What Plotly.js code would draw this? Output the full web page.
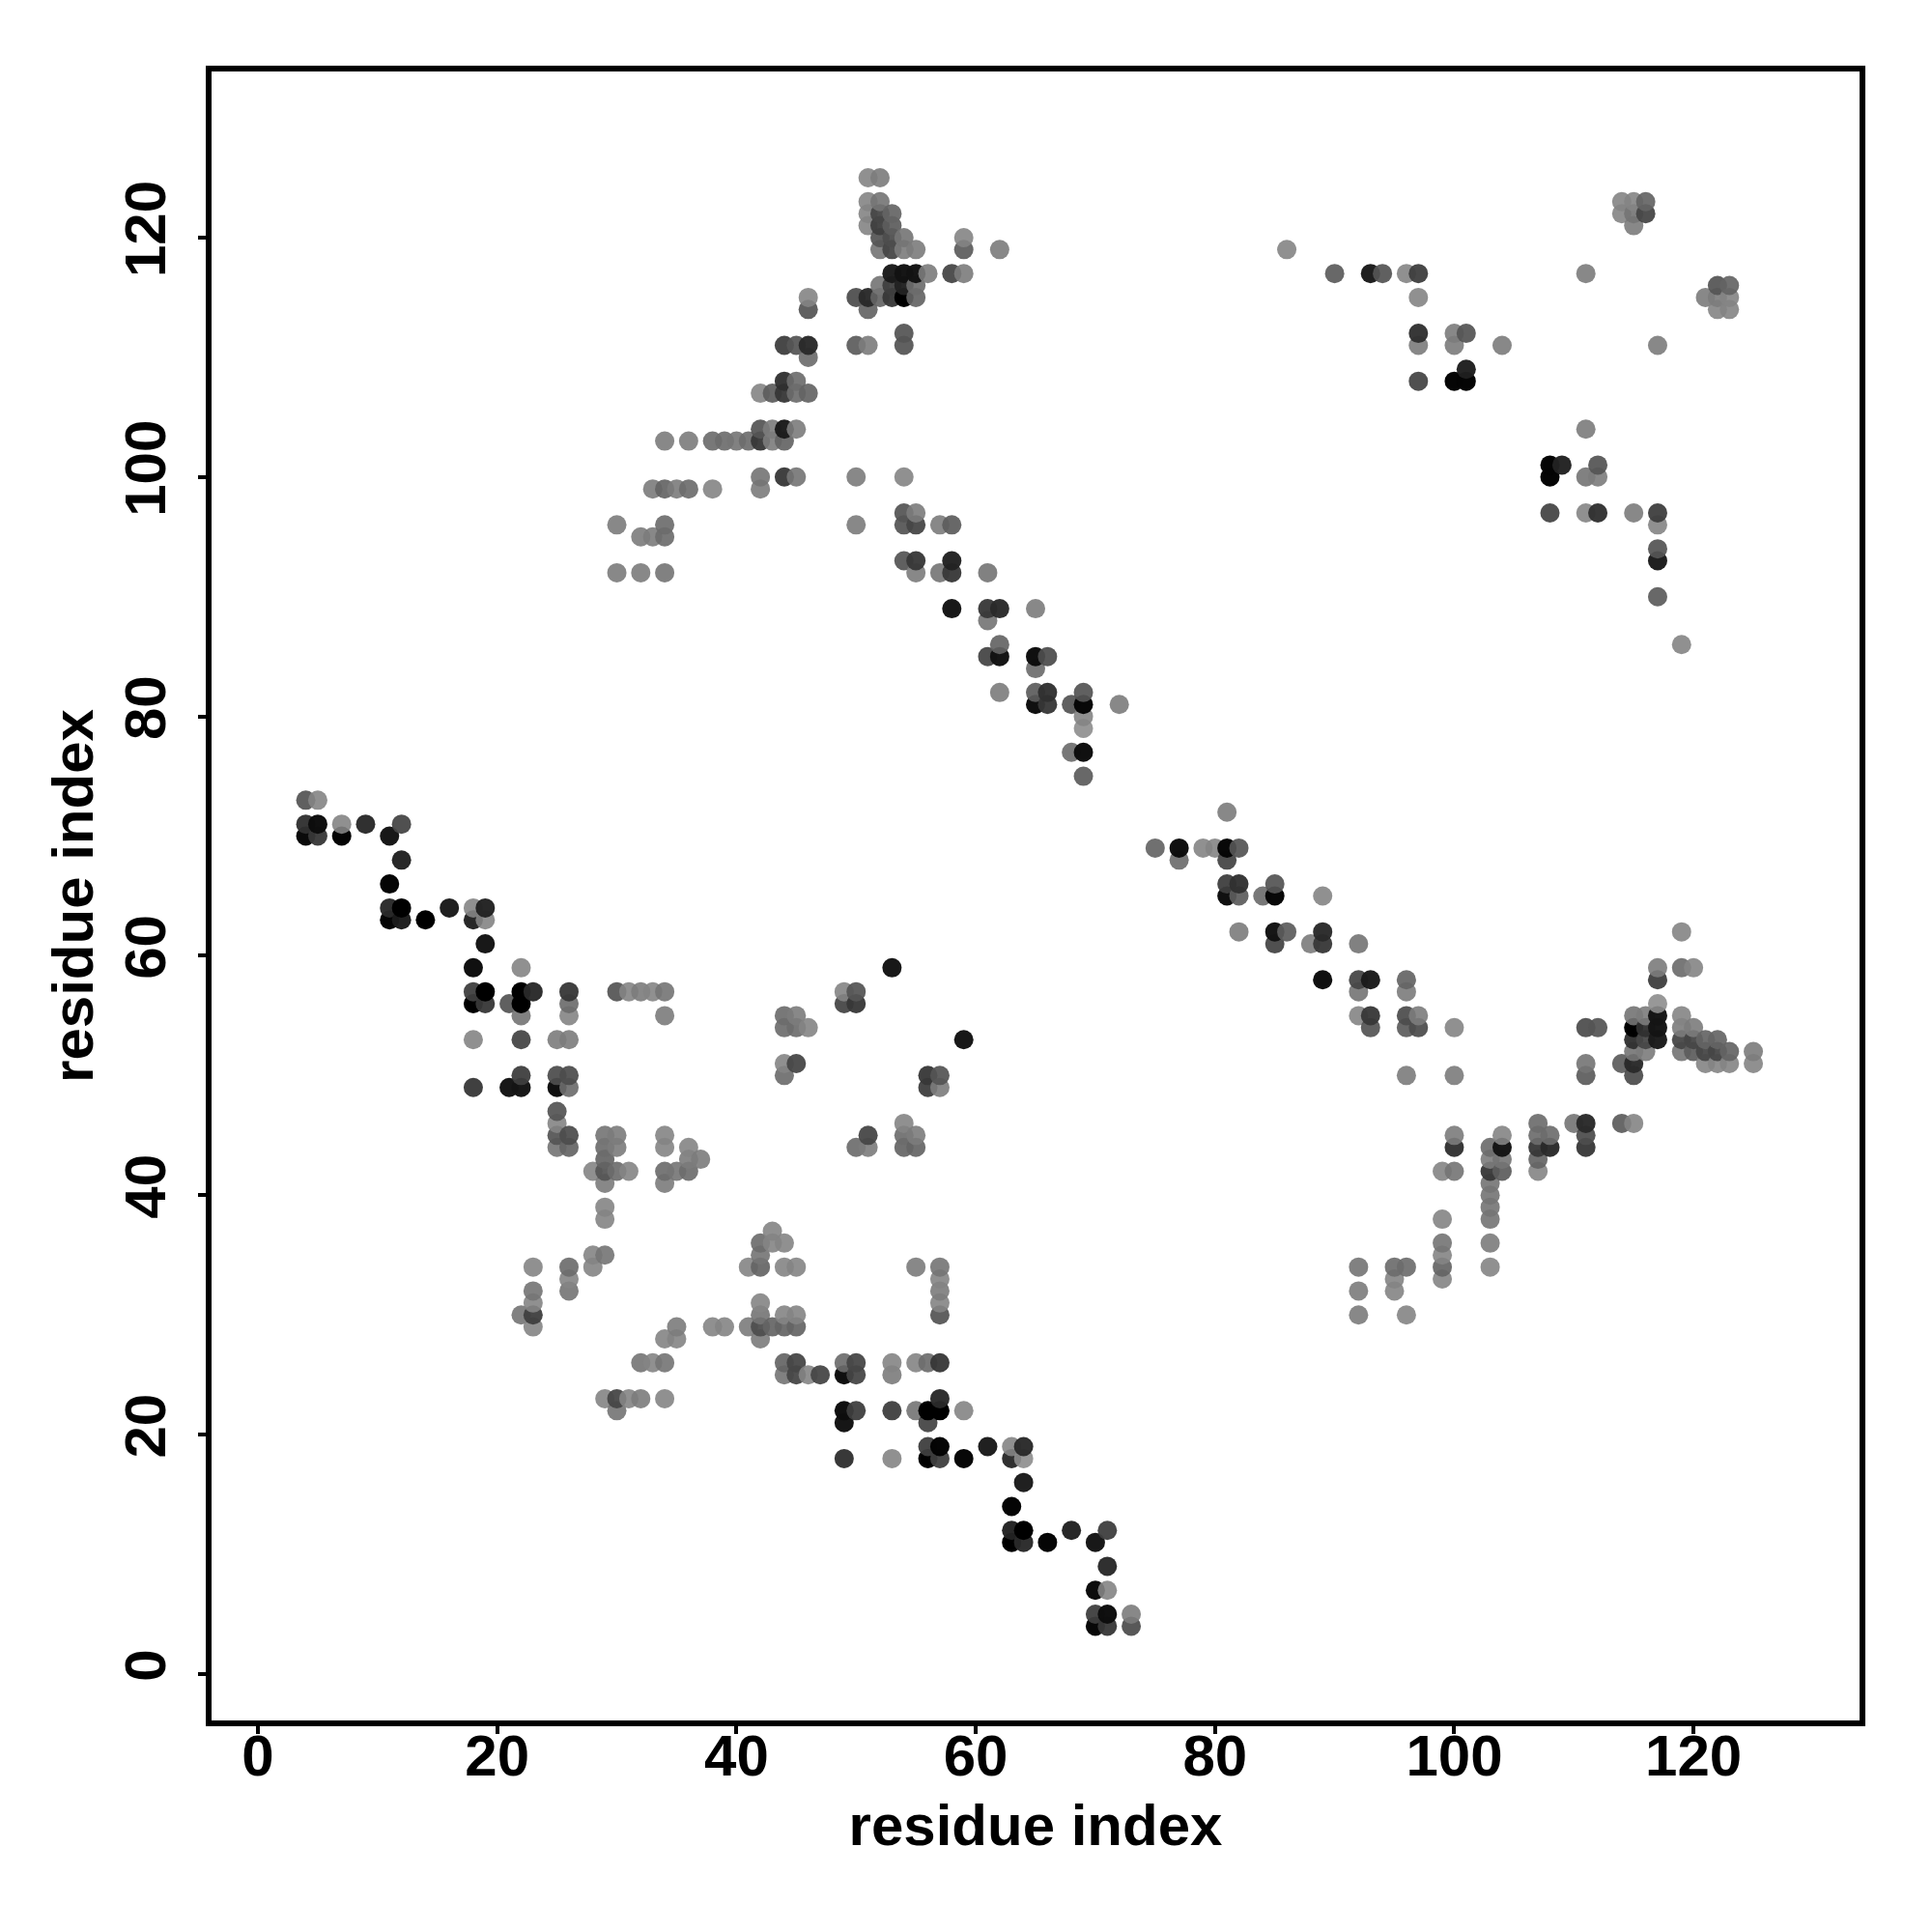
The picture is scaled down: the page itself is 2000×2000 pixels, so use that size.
<!DOCTYPE html>
<html>
<head>
<meta charset="utf-8">
<script src="https://cdn.plot.ly/plotly-3.0.1.min.js"></script>
<style>html,body{margin:0;padding:0;background:#fff}</style>
</head>
<body>
<div id="chart" style="width:2000px;height:2000px"></div>
<script>
const axisTitle = "residue index";
const tickValues = [0, 20, 40, 60, 80, 100, 120];

const residueX = [
51,52,
51,52,114,115,116,
51,52,53,114,115,116,
51,52,53,115,
52,53,54,59,
52,53,54,55,59,62,86,
53,54,55,56,58,59,90,93,94,96,97,111,
52,53,54,55,122,123,
46,50,51,52,53,54,55,97,121,122,123,
46,51,122,123,
54,97,100,101,
44,45,46,50,51,54,97,100,104,117,
46,
101,
44,45,97,100,101,
42,43,44,45,46,
42,43,44,45,111,
34,36,38,39,40,41,42,43,44,
108,109,112,
42,44,45,50,54,108,111,112,
33,34,35,36,38,42,
54,55,108,111,112,115,117,
30,34,50,54,55,57,58,117,
32,33,34,
117,
54,55,58,117,
30,32,34,55,57,58,61,
117,
58,61,62,65,
61,
62,119,
61,62,65,66,
65,
62,65,66,69,
65,66,68,69,72,
69,
69,
68,69,
69,
4,5,
81,
4,5,7,9,12,
4,5,7,11,
75,77,79,80,81,82,
12,77,81,
11,81,82,85,
81,82,84,85,89,
11,12,16,18,19,
11,12,14,18,19,
82,85,86,89,119,
19,85,88,89,92,
18,22,53,117,119,120,
89,92,93,96,117,
18,19,22,23,26,30,31,32,33,34,49,50,92,96,
18,19,21,22,26,49,50,117,
22,26,34,44,45,92,93,96,97,115,116,117,119,
44,45,46,93,96,97,100,111,112,115,116,117,119,120,
18,22,25,26,59,115,116,117,119,120,121,122,
115,116,119,120,121,122,123,125,
44,45,111,114,115,121,122,123,125,
22,25,26,44,56,57,96,100,111,115,
18,21,22,25,26,56,57,
25,
25,54,107,110,111,114,115,
25,26,29,30,34,51,54,55,100,104,107,108,111,
25,26,29,30,34,36,50,51,54,55,100,103,104,107,108,111,
29,36,37,103,104,107,
28,29,30,31,34,35,36,99,100,103,104,107,
29,34,103,
103,
29,103,
29,99,103,
43,
42,43,44,99,103,
28,29,42,99,
23,26,28,41,42,44,45,55,57,92,95,96,99,103,
26,57,95,99,
23,26,57,92,95,
23,42,57,
22,23,42,44,45,57,92,96,
23,35,38,39,41,42,43,44,45,
34,35,42,
32,33,34,44,45,49,50,53,55,56,57,
44,45,46,47,49,50,53,
29,30,31,32,34,57,
30,49,50,53,55,56,57,59,
49,56,
56,57,61,63,64,
49,53,56,57,59,63,64,
64,
63,
63,64,68,71,
63,64,66,70,
71,
70,71,
70,71,73,
70,71,73
];

const residueY = [
125,125,
123,123,123,123,123,
122,122,122,122,122,122,
121,121,121,121,
120,120,120,120,
119,119,119,119,119,119,119,
117,117,117,117,117,117,117,117,117,117,117,117,
116,116,116,116,116,116,
115,115,115,115,115,115,115,115,115,115,115,
114,114,114,114,
112,112,112,112,
111,111,111,111,111,111,111,111,111,111,
110,
109,
108,108,108,108,108,
107,107,107,107,107,
104,104,104,104,104,
103,103,103,103,103,103,103,103,103,
101,101,101,
100,100,100,100,100,100,100,100,
99,99,99,99,99,99,
97,97,97,97,97,97,97,
96,96,96,96,96,96,96,96,
95,95,95,
94,
93,93,93,93,
92,92,92,92,92,92,92,
90,
89,89,89,89,
88,
86,86,
85,85,85,85,
84,
82,82,82,82,
81,81,81,81,81,
80,
79,
77,77,
75,
73,73,
72,
71,71,71,71,71,
70,70,70,70,
69,69,69,69,69,69,
68,68,68,
66,66,66,66,
65,65,65,65,65,
64,64,64,64,64,
63,63,63,63,63,
62,62,62,62,62,
61,61,61,61,61,
59,59,59,59,59,59,
58,58,58,58,58,
57,57,57,57,57,57,57,57,57,57,57,57,57,57,
56,56,56,56,56,56,56,56,
55,55,55,55,55,55,55,55,55,55,55,55,55,
54,54,54,54,54,54,54,54,54,54,54,54,54,54,
53,53,53,53,53,53,53,53,53,53,53,53,
52,52,52,52,52,52,52,52,
51,51,51,51,51,51,51,51,51,
50,50,50,50,50,50,50,50,50,50,
49,49,49,49,49,49,49,
47,
46,46,46,46,46,46,46,
45,45,45,45,45,45,45,45,45,45,45,45,45,
44,44,44,44,44,44,44,44,44,44,44,44,44,44,44,44,
43,43,43,43,43,43,
42,42,42,42,42,42,42,42,42,42,42,42,
41,41,41,
40,
39,39,
38,38,38,
37,
36,36,36,36,36,
35,35,35,35,
34,34,34,34,34,34,34,34,34,34,34,34,34,34,
33,33,33,33,
32,32,32,32,32,
31,31,31,
30,30,30,30,30,30,30,30,
29,29,29,29,29,29,29,29,29,
28,28,28,
26,26,26,26,26,26,26,26,26,26,26,
25,25,25,25,25,25,25,
23,23,23,23,23,23,
22,22,22,22,22,22,22,22,
21,21,
19,19,19,19,19,
18,18,18,18,18,18,18,
16,
14,
12,12,12,12,
11,11,11,11,
9,
7,7,
5,5,5,
4,4,4
];

const shade = [
0x90,0x88,
0x90,0x80,0x90,0x90,0x70,
0x90,0x50,0x70,0x90,0x80,0x50,
0x90,0x48,0x68,0x88,
0x60,0x58,0x80,0x90,
0x80,0x50,0x88,0x88,0x68,0x88,0x90,
0x20,0x15,0x15,0x88,0x50,0x88,0x68,0x20,0x60,0x90,0x48,0x88,
0x80,0x48,0x28,0x78,0x60,0x70,
0x90,0x58,0x30,0x70,0x40,0x00,0x70,0x90,0x88,0x88,0x90,
0x60,0x70,0x90,0x90,
0x60,0x38,0x88,0x60,
0x48,0x60,0x30,0x68,0x88,0x60,0x88,0x88,0x88,0x88,
0x78,
0x25,
0x38,0x78,0x50,0x05,0x05,
0x90,0x68,0x40,0x78,0x70,
0x60,0x88,0x20,0x88,0x88,
0x88,0x88,0x78,0x78,0x80,0x78,0x40,0x88,0x70,
0x05,0x28,0x60,
0x80,0x40,0x80,0x88,0x90,0x05,0x80,0x88,
0x88,0x70,0x88,0x78,0x90,0x88,
0x60,0x88,0x50,0x90,0x38,0x88,0x48,
0x88,0x78,0x88,0x60,0x50,0x88,0x68,0x90,
0x88,0x88,0x78,
0x60,
0x60,0x40,0x28,0x20,
0x88,0x88,0x80,0x88,0x80,0x40,0x80,
0x68,
0x18,0x40,0x30,0x88,
0x80,
0x70,0x90,
0x50,0x15,0x10,0x58,
0x78,
0x88,0x68,0x38,0x60,
0x10,0x40,0x60,0x08,0x88,
0x90,
0x98,
0x78,0x10,
0x68,
0x60,0x90,
0x88,
0x38,0x10,0x90,0x30,0x50,
0x0a,0x40,0x05,0x18,
0x70,0x10,0x90,0x90,0x08,0x60,
0x28,0x78,0x50,
0x05,0x48,0x38,0x60,
0x10,0x68,0x78,0x08,0x90,
0x30,0x00,0x20,0x90,0x28,
0x05,0x20,0x00,0x28,0x90,
0x88,0x15,0x68,0x30,0x90,
0x18,0x50,0x88,0x40,0x80,
0x10,0x90,0x18,0x88,0x78,0x90,
0x10,0x50,0x20,0x70,0x48,
0x48,0x00,0x00,0x30,0x40,0x60,0x90,0x88,0x90,0x80,0x90,0x60,0x80,0x88,
0x00,0x40,0x60,0x00,0x78,0x50,0x40,0x98,
0x80,0x90,0x88,0x78,0x88,0x90,0x40,0x58,0x88,0x80,0x88,0x18,0x90,
0x78,0x78,0x90,0x60,0x68,0x58,0x90,0x58,0x60,0x00,0x38,0x18,0x88,0x88,
0x90,0x50,0x88,0x88,0x18,0x38,0x50,0x20,0x50,0x50,0x70,0x70,
0x80,0x88,0x80,0x68,0x50,0x50,0x70,0x88,
0x90,0x50,0x80,0x68,0x30,0x90,0x90,0x90,0x90,
0x48,0x58,0x58,0x78,0x40,0x60,0x88,0x88,0x68,0x58,
0x40,0x18,0x18,0x10,0x78,0x48,0x88,
0x60,
0x90,0x90,0x78,0x80,0x30,0x68,0x90,
0x60,0x58,0x80,0x88,0x90,0x50,0x78,0x88,0x88,0x90,0x78,0x78,0x58,
0x80,0x70,0x78,0x88,0x90,0x90,0x78,0x88,0x70,0x70,0x38,0x78,0x18,0x40,0x30,0x40,
0x70,0x88,0x88,0x88,0x80,0x70,
0x90,0x60,0x78,0x90,0x78,0x80,0x78,0x90,0x80,0x40,0x68,0x90,
0x88,0x88,0x80,
0x80,
0x90,0x80,
0x90,0x90,0x80,
0x90,
0x78,0x90,0x90,0x80,0x88,
0x90,0x80,0x80,0x90,
0x90,0x78,0x90,0x90,0x70,0x90,0x90,0x88,0x80,0x80,0x78,0x78,0x70,0x90,
0x90,0x90,0x90,0x90,
0x80,0x80,0x88,0x88,0x90,
0x90,0x90,0x90,
0x80,0x48,0x80,0x90,0x90,0x60,0x88,0x90,
0x90,0x88,0x90,0x90,0x88,0x58,0x70,0x70,0x70,
0x90,0x90,0x88,
0x80,0x90,0x80,0x70,0x50,0x78,0x50,0x90,0x90,0x78,0x40,
0x80,0x50,0x90,0x50,0x10,0x50,0x88,
0x90,0x50,0x90,0x88,0x90,0x30,
0x80,0x10,0x48,0x48,0x80,0x00,0x00,0x90,
0x15,0x50,
0x48,0x05,0x20,0x90,0x30,
0x38,0x90,0x00,0x48,0x08,0x30,0x98,
0x20,
0x05,
0x28,0x00,0x28,0x48,
0x00,0x30,0x05,0x18,
0x30,
0x0c,0x90,
0x48,0x10,0x88,
0x08,0x40,0x58
];

// Later points are painted over earlier ones: ascending x, then ascending y.
const order = residueX.map((_, i) => i).sort((a, b) =>
  residueX[a] - residueX[b] || residueY[a] - residueY[b]);

// Markers are slightly see-through: the lighter the grey, the more transparent.
const alphaOf = d => 1 - 0.1 * Math.min(d / 144, 1);
const fillOf = d => {
  const a = alphaOf(d);
  const g = Math.max(0, Math.round((d - 255 * (1 - a)) / a));
  return `rgb(${g},${g},${g})`;
};

const trace = {
  type: 'scatter',
  mode: 'markers',
  x: order.map(i => residueX[i]),
  y: order.map(i => residueY[i]),
  marker: {
    size: 20,
    line: { width: 0 },
    color: order.map(i => fillOf(shade[i])),
    opacity: order.map(i => alphaOf(shade[i]))
  },
  hoverinfo: 'x+y'
};

const font = { family: '"Liberation Sans", Arial, sans-serif', size: 60, color: '#000', weight: 700 };
const baseAxis = {
  range: [-4.12, 134.12],
  tickmode: 'array',
  tickvals: tickValues,
  ticktext: tickValues.map(String),
  ticks: 'outside',
  ticklen: 10,
  tickwidth: 4,
  tickcolor: '#000',
  showgrid: false,
  zeroline: false,
  showline: false,
  tickfont: font,
  automargin: false
};

Plotly.newPlot('chart', [trace], {
  width: 2000,
  height: 2000,
  margin: { l: 216, r: 72, t: 71, b: 216, pad: 0 },
  paper_bgcolor: '#fff',
  plot_bgcolor: '#fff',
  showlegend: false,
  xaxis: Object.assign({}, baseAxis, {
    tickangle: 0,
    ticklabelstandoff: -29,
    title: { text: axisTitle, font: font, standoff: 17 }
  }),
  yaxis: Object.assign({}, baseAxis, {
    tickangle: -90,
    ticklabelstandoff: 10,
    title: { text: axisTitle, font: font, standoff: 1 }
  }),
  shapes: [{
    type: 'rect', xref: 'paper', yref: 'paper', x0: 0, x1: 1, y0: 0, y1: 1,
    line: { color: '#000', width: 6 }, layer: 'above'
  }]
}, { displayModeBar: false, staticPlot: true });
</script>
</body>
</html>
